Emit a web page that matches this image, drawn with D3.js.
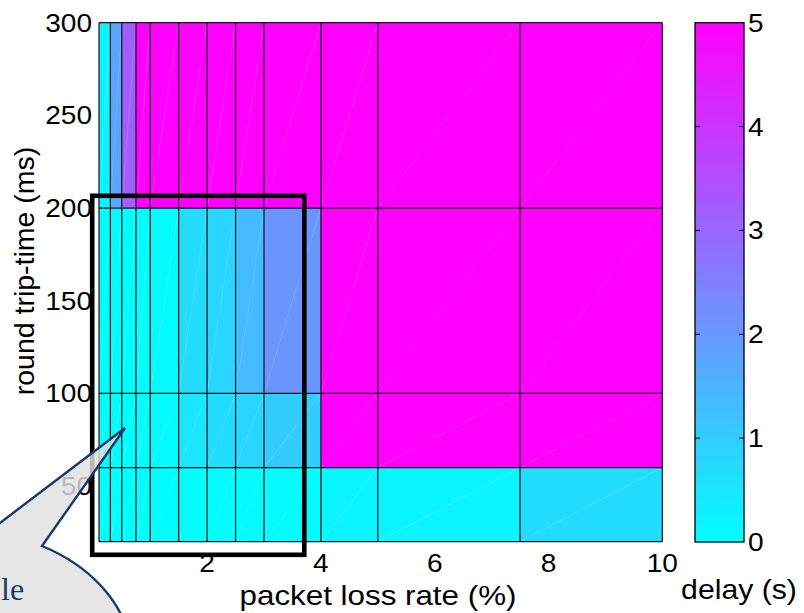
<!DOCTYPE html>
<html>
<head>
<meta charset="utf-8">
<script src="https://cdn.jsdelivr.net/npm/d3@7"></script>
<style>
  html, body { margin: 0; padding: 0; background: #fff; }
  svg { display: block; }
  text { font-family: "Liberation Sans", Arial, Helvetica, sans-serif; fill: #000; }
</style>
</head>
<body>
<svg id="chart" width="804" height="613"></svg>
<script>
// ---- data (grid edges and cell values, delay in seconds; >=5 is saturated) ----
const lossRates = [0.1, 0.3, 0.5, 0.75, 1, 1.5, 2, 2.5, 3, 4, 5, 7.5, 10];
const rtts = [20, 60, 100, 200, 300];
const delayRtt20  = [0.0, 0.0, 0.0, 0.01, 0.02, 0.03, 0.03, 0.04, 0.05, 0.2, 0.2, 0.66];
const delayRtt60  = [0.02, 0.03, 0.04, 0.05, 0.08, 0.5, 0.67, 0.8, 1.0, 5, 5, 5];
const delayRtt100 = [0.03, 0.04, 0.05, 0.06, 0.08, 0.67, 0.8, 1.33, 2.08, 5, 5, 5];
const delayRtt200 = [0.25, 1.76, 3.15, 5, 5, 5, 5, 5, 5, 5, 5, 5];
const xTicks = [2, 4, 6, 8, 10];
const yTicks = [50, 100, 150, 200, 250, 300];
const cbTicks = [0, 1, 2, 3, 4, 5];
const xLabel = "packet loss rate (%)";
const yLabel = "round trip-time (ms)";
const cbLabel = "delay (s)";
const calloutText = "le";

const rows = [delayRtt20, delayRtt60, delayRtt100, delayRtt200];

const svg = d3.select("#chart");
const x = d3.scaleLinear().domain([0.1, 10]).range([99, 662.3]);
const y = d3.scaleLinear().domain([20, 300]).range([541.7, 22.7]);
const color = d3.scaleLinear().domain([0, 5]).range(["#00ffff", "#ff00ff"]).clamp(true);

const TICK_FS = 25.5, LABEL_FS = 28.5, SX = 1.1;

// ---- cells ----
const cells = [];
rows.forEach((vals, j) => {
  vals.forEach((v, i) => {
    cells.push({x0: lossRates[i], x1: lossRates[i + 1], y0: rtts[j], y1: rtts[j + 1], v});
  });
});
const gCells = svg.append("g");
gCells.selectAll("rect.cell").data(cells).join("rect")
  .attr("class", "cell")
  .attr("x", d => x(d.x0)).attr("y", d => y(d.y1))
  .attr("width", d => x(d.x1) - x(d.x0)).attr("height", d => y(d.y0) - y(d.y1))
  .attr("fill", d => color(d.v))
  .attr("shape-rendering", "crispEdges");
// faint triangle seams
gCells.selectAll("line.seam").data(cells).join("line")
  .attr("class", "seam")
  .attr("x1", d => x(d.x0)).attr("y1", d => y(d.y0))
  .attr("x2", d => x(d.x1)).attr("y2", d => y(d.y1))
  .attr("stroke", "#fff").attr("stroke-opacity", 0.2).attr("stroke-width", 0.7);
// cell edges
gCells.selectAll("line.vx").data(lossRates).join("line")
  .attr("class", "vx")
  .attr("x1", d => x(d)).attr("x2", d => x(d))
  .attr("y1", y(300)).attr("y2", y(20))
  .attr("stroke", "#111").attr("stroke-width", 1.2);
gCells.selectAll("line.hy").data(rtts).join("line")
  .attr("class", "hy")
  .attr("y1", d => y(d)).attr("y2", d => y(d))
  .attr("x1", x(0.1)).attr("x2", x(10))
  .attr("stroke", "#111").attr("stroke-width", 1.2);

// ---- axis tick labels ----
const gx = svg.append("g");
gx.selectAll("text").data(xTicks).join("text")
  .attr("transform", d => `translate(${x(d)},572) scale(${SX},1)`)
  .attr("text-anchor", "middle")
  .style("font-size", TICK_FS + "px")
  .text(d => d);
const gy = svg.append("g");
gy.selectAll("text").data(yTicks).join("text")
  .attr("transform", d => `translate(92,${y(d) + 9}) scale(${SX},1)`)
  .attr("text-anchor", "end")
  .style("font-size", TICK_FS + "px")
  .text(d => d);

// axis labels
svg.append("text")
  .attr("transform", `translate(378,605) scale(${SX},1)`)
  .attr("text-anchor", "middle")
  .style("font-size", LABEL_FS + "px")
  .text(xLabel);
svg.append("text")
  .attr("transform", `translate(34,271) rotate(-90)`)
  .attr("text-anchor", "middle")
  .style("font-size", LABEL_FS + "px")
  .text(yLabel);

// ---- colorbar ----
const cb = {x0: 695, x1: 744};
const cy = d3.scaleLinear().domain([0, 5]).range([542, 22.7]);
const defs = svg.append("defs");
const grad = defs.append("linearGradient").attr("id", "cbgrad")
  .attr("x1", 0).attr("y1", 1).attr("x2", 0).attr("y2", 0);
grad.selectAll("stop").data(cbTicks).join("stop")
  .attr("offset", d => d / 5)
  .attr("stop-color", d => color(d));
svg.append("rect")
  .attr("x", cb.x0).attr("y", cy(5))
  .attr("width", cb.x1 - cb.x0).attr("height", cy(0) - cy(5))
  .attr("fill", "url(#cbgrad)")
  .attr("stroke", "#000").attr("stroke-width", 1.3);
const inner = cbTicks.filter(d => d > 0 && d < 5);
svg.append("g").selectAll("path").data(inner).join("path")
  .attr("d", d => `M${cb.x0},${cy(d)}h5M${cb.x1},${cy(d)}h-5`)
  .attr("stroke", "#000").attr("stroke-width", 1);
svg.append("g").selectAll("text").data(cbTicks).join("text")
  .attr("transform", d => `translate(748,${cy(d) + 9}) scale(${SX},1)`)
  .attr("text-anchor", "start")
  .style("font-size", TICK_FS + "px")
  .text(d => d);
svg.append("text")
  .attr("transform", `translate(739,599) scale(1.06,1)`)
  .attr("text-anchor", "middle")
  .style("font-size", LABEL_FS + "px")
  .text(cbLabel);

// ---- annotation overlay: highlight box ----
svg.append("rect")
  .attr("x", 92.2).attr("y", 195.8)
  .attr("width", 304.3 - 92.2).attr("height", 554.8 - 195.8)
  .attr("fill", "none").attr("stroke", "#000").attr("stroke-width", 4.6);

// ---- callout bubble ----
const tip = [125, 428], A = [-12, 532], B = [42, 546];
svg.append("path")
  .attr("d", `M${tip[0]},${tip[1]} L${A[0]},${A[1]} A172,130 0 1 0 ${B[0]},${B[1]} Z`)
  .attr("fill", "#e1e1e1").attr("fill-opacity", 0.82)
  .attr("stroke", "#17396a").attr("stroke-width", 2.4)
  .attr("stroke-linejoin", "miter");
svg.append("text")
  .attr("x", 1).attr("y", 600)
  .attr("text-anchor", "start")
  .style("font-family", "'Liberation Serif', 'Times New Roman', serif")
  .style("font-size", "32px")
  .style("fill", "#1a3a68")
  .text(calloutText);
</script>
</body>
</html>
